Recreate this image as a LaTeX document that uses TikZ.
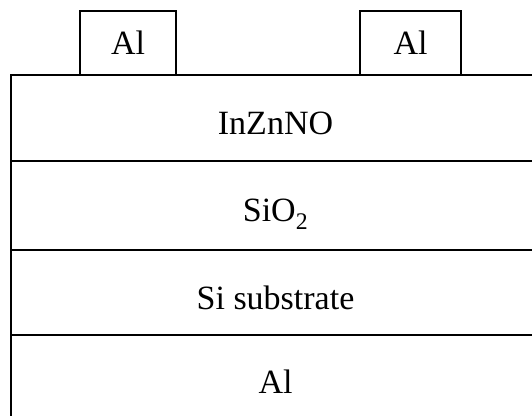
\documentclass[tikz,border=0pt]{standalone}
\usepackage{fontspec}
\setmainfont{Liberation Serif}
\usetikzlibrary{positioning}
\begin{document}
\begin{tikzpicture}[x=1pt, y=1pt,
	layer/.style={draw=black, line width=1.2pt, minimum width=529pt, inner sep=0pt, outer sep=0pt, text height=33pt, text depth=0pt, font=\fontsize{34}{40}\selectfont},
	contact/.style={draw=black, line width=1.2pt, minimum height=64pt, inner sep=0pt, outer sep=0pt, font=\fontsize{34}{40}\selectfont}]
	\useasboundingbox (0,0) rectangle (532,415);
	\clip (0,0) rectangle (532,415);
	% layer stack
	\node[layer, minimum height=86pt, anchor=north west] (izno) at (11,340) {InZnNO};
	\node[layer, minimum height=89pt, below=0pt of izno] (oxide) {SiO\textsubscript{2}};
	\node[layer, minimum height=85pt, below=0pt of oxide] (subst) {Si substrate};
	\node[layer, minimum height=84pt, below=0pt of subst] (backal) {Al};
	% top contacts
	\node[contact, minimum width=96pt, anchor=south west] (alleft) at (80,340) {Al};
	\node[contact, minimum width=101pt, anchor=south west] (alright) at (360,340) {Al};
\end{tikzpicture}
\end{document}
